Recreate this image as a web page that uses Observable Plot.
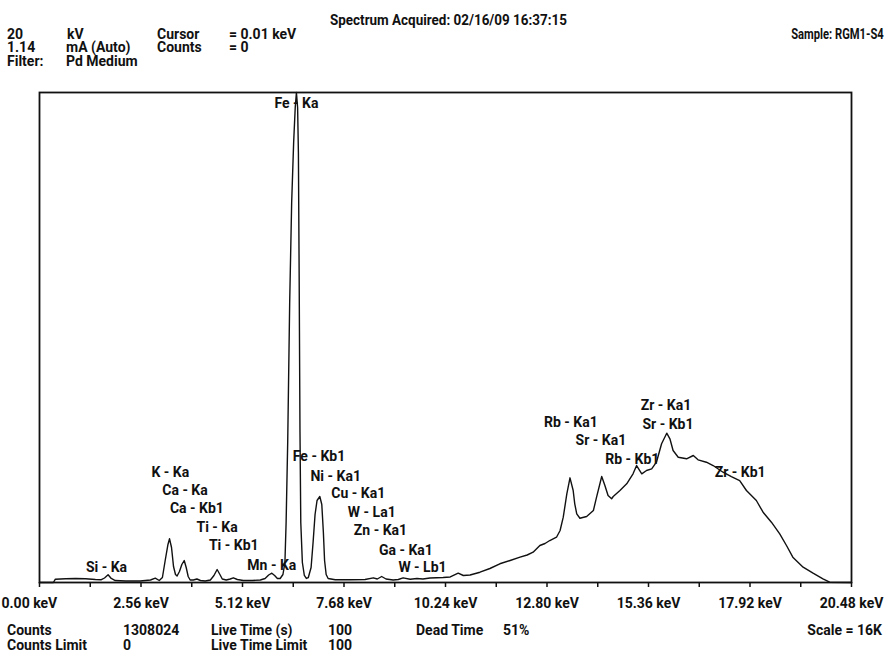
<!DOCTYPE html>
<html><head><meta charset="utf-8">
<script src="https://cdn.jsdelivr.net/npm/d3@7"></script>
<script src="https://cdn.jsdelivr.net/npm/@observablehq/plot@0.6"></script>
<style>
html,body{margin:0;padding:0;background:#fff;}
#wrap{position:relative;width:887px;height:654px;overflow:hidden;font-family:Roboto,"Liberation Sans",sans-serif;font-weight:bold;font-size:14px;color:#111;}
.t{position:absolute;line-height:12px;height:12px;white-space:nowrap;}
#chart{position:absolute;left:0;top:0;}
</style></head><body>
<div id="wrap"><div id="chart"></div></div>
<script>
// ---- data ----
const energy = [
  0.00,0.35,0.40,0.66,0.91,1.16,1.41,1.56,1.64,1.73,
  1.81,1.91,2.17,2.54,2.80,2.92,3.02,3.10,3.17,3.24,
  3.28,3.33,3.38,3.43,3.47,3.53,3.59,3.65,3.70,3.75,
  3.80,3.88,3.97,4.06,4.18,4.31,4.40,4.48,4.55,4.61,
  4.71,4.81,4.89,4.99,5.14,5.37,5.57,5.69,5.78,5.86,
  5.93,6.00,6.07,6.14,6.19,6.22,6.26,6.31,6.36,6.41,
  6.45,6.48,6.51,6.53,6.55,6.57,6.59,6.63,6.68,6.73,
  6.78,6.85,6.90,6.95,7.00,7.07,7.12,7.16,7.19,7.23,
  7.28,7.46,7.84,8.21,8.42,8.52,8.63,8.74,8.92,9.05,
  9.17,9.35,9.52,9.67,9.85,10.18,10.36,10.56,10.69,10.86,
  11.11,11.36,11.61,11.87,12.12,12.30,12.45,12.62,12.75,12.87,
  13.04,13.13,13.21,13.30,13.38,13.46,13.50,13.55,13.63,13.80,
  13.97,14.05,14.18,14.26,14.34,14.43,14.47,14.64,14.81,14.97,
  15.06,15.19,15.31,15.44,15.56,15.69,15.82,15.90,15.98,16.11,
  16.32,16.49,16.61,16.82,16.99,17.24,17.45,17.66,17.83,18.08,
  18.25,18.46,18.67,18.84,19.00,19.26,19.51,19.76,19.93,20.48
];
const counts = [
  0,0,108,124,131,124,98,91,147,251,
  131,65,49,49,82,140,65,163,718,1241,
  1427,1143,522,261,212,359,588,718,490,196,
  82,82,114,65,49,82,229,424,261,114,
  82,114,153,98,65,65,82,131,245,304,
  229,131,131,261,653,1959,4571,9142,12407,14366,
  15509,16000,15509,14040,9795,4898,1959,653,229,131,
  163,490,1306,2220,2677,2808,2547,1633,718,261,
  131,88,88,98,153,114,196,114,82,98,
  153,108,131,114,147,163,180,304,229,245,
  336,457,611,718,826,898,989,1208,1273,1371,
  1479,1698,2132,2896,3418,3004,2570,2243,2099,2155,
  2351,2785,3461,3167,2841,2733,2808,3004,3223,3549,
  3820,3549,3657,3712,3928,4529,4875,4692,4310,4091,
  4039,4147,4006,3928,3820,3601,3461,3330,3004,2677,
  2295,1969,1590,1208,826,500,304,121,10,0
];
const labelNames = ["Si - Ka","K - Ka","Ca - Ka","Ca - Kb1","Ti - Ka","Ti - Kb1","Mn - Ka","Fe - Ka","Fe - Kb1","Ni - Ka1","Cu - Ka1","W - La1","Zn - Ka1","Ga - Ka1","W - Lb1","Rb - Ka1","Sr - Ka1","Rb - Kb1","Zr - Ka1","Sr - Kb1","Zr - Kb1"];
const labelEnergy = [1.69,3.30,3.67,3.97,4.48,4.90,5.86,6.48,7.05,7.47,8.04,8.38,8.60,9.24,9.66,13.40,14.16,14.95,15.80,15.85,17.67];
const labelCounts = [359,3461,2873,2269,1665,1045,424,15509,3967,3330,2743,2139,1535,898,343,5093,4489,3885,5632,5028,3444];
const tickValues = [0,1.28,2.56,3.84,5.12,6.40,7.68,8.96,10.24,11.52,12.80,14.08,15.36,16.64,17.92,19.20,20.48];
const labelTicks = [0,2.56,5.12,7.68,10.24,12.80,15.36,17.92,20.48];

// ---- build ----
const FONT = 'Roboto,"Liberation Sans",sans-serif';
const spectrum = energy.map((e,i)=>({keV:e, counts:counts[i]}));
const labels = labelNames.map((n,i)=>({name:n, keV:labelEnergy[i], counts:labelCounts[i]}));
const fmt = d => d.toFixed(2) + " keV";
const txt = {fill:"#111", fontSize:14, fontWeight:"bold"};

const plot = Plot.plot({
  width:887, height:654,
  marginLeft:39, marginRight:36, marginTop:92, marginBottom:72,
  style:{fontFamily:FONT, fontSize:"14px", fontWeight:"bold", color:"#111", background:"transparent"},
  x:{domain:[0,20.48], axis:null, label:null},
  y:{domain:[0,16000], axis:null, label:null},
  marks:[
    Plot.text(labels,{x:"keV", y:"counts", text:"name", lineAnchor:"bottom", ...txt}),
    Plot.line(spectrum,{x:"keV", y:"counts", stroke:"#111", strokeWidth:1.4}),
    Plot.frame({stroke:"#111", strokeWidth:1.8}),
    Plot.axisX(tickValues,{tickSize:5, tickFormat:()=>"", label:null, stroke:"#111", strokeWidth:1.5}),
    Plot.text(labelTicks.slice(1),{x:d=>d, frameAnchor:"bottom", text:fmt, lineAnchor:"bottom", dy:25, ...txt}),
    Plot.text(labelTicks.slice(0,1),{x:d=>d, frameAnchor:"bottom", text:fmt, lineAnchor:"bottom", textAnchor:"start", dx:-38, dy:25, ...txt})
  ]
});
document.getElementById("chart").appendChild(plot);

// ---- header / footer text (layout: [text, x, baseline y, align, horizontal squeeze]) ----
const textItems = [
  ["Spectrum Acquired: 02/16/09 16:37:15", 330, 25, "left", 0.96],
  ["20", 7, 39], ["kV", 67, 39], ["Cursor", 157, 39], ["= 0.01 keV", 229, 39],
  ["Sample: RGM1-S4", 884, 39, "right", 0.8],
  ["1.14", 7, 52], ["mA (Auto)", 66, 52], ["Counts", 157, 52], ["= 0", 229, 52],
  ["Filter:", 7, 65.5], ["Pd Medium", 66, 65.5],
  ["Counts", 7, 635], ["1308024", 123, 635], ["Live Time (s)", 211, 635], ["100", 328, 635],
  ["Dead Time", 416, 635], ["51%", 503, 635], ["Scale = 16K", 882, 635, "right"],
  ["Counts Limit", 7, 650], ["0", 123, 650], ["Live Time Limit", 211, 650], ["100", 328, 650]
];
const wrap = document.getElementById("wrap");
for (const [t, x, base, align, sq] of textItems) {
  const d = document.createElement("div");
  d.className = "t";
  d.textContent = t;
  d.style.top = (base - 10.8) + "px";
  if (align === "right") { d.style.right = (887 - x) + "px"; d.style.transformOrigin = "right center"; }
  else { d.style.left = x + "px"; d.style.transformOrigin = "left center"; }
  if (sq) d.style.transform = `scaleX(${sq})`;
  wrap.appendChild(d);
}
</script>
</body></html>
